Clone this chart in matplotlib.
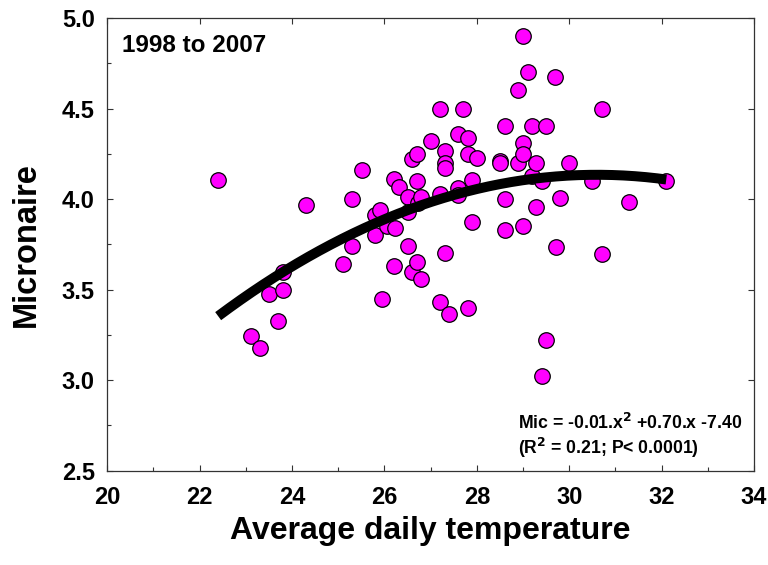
import matplotlib
matplotlib.use("Agg")
import matplotlib.pyplot as plt
import numpy as np
from matplotlib.ticker import MultipleLocator

plt.rcParams['font.family'] = ['Liberation Sans', 'DejaVu Sans']
plt.rcParams['font.weight'] = 'bold'

# Average daily temperature (x) and micronaire (y)
temperature = [22.40, 23.11, 23.31, 23.51, 23.70, 23.81, 23.81, 24.30, 25.11, 25.29,
               25.29, 25.51, 25.79, 25.79, 25.90, 25.95, 26.05, 26.23, 26.21, 26.32,
               26.21, 26.50, 26.52, 26.52, 26.59, 26.60, 26.70, 26.70, 26.70, 26.73,
               26.80, 26.80, 27.00, 27.20, 27.20, 27.20, 27.31, 27.31, 27.31, 27.31,
               27.40, 27.60, 27.60, 27.60, 27.69, 27.80, 27.80, 27.80, 27.90, 27.90,
               28.01, 28.50, 28.50, 28.61, 28.61, 28.61, 28.90, 28.90, 28.99, 29.00,
               29.00, 29.00, 29.10, 29.19, 29.20, 29.29, 29.29, 29.40, 29.40, 29.50,
               29.50, 29.69, 29.71, 29.80, 30.00, 30.50, 30.70, 30.70, 31.29, 32.09]
micronaire = [4.105, 3.243, 3.18, 3.475, 3.326, 3.50, 3.60, 3.967, 3.64, 3.74,
              4.00, 4.16, 3.80, 3.91, 3.94, 3.45, 3.85, 3.84, 4.11, 4.065,
              3.63, 4.01, 3.93, 3.74, 3.60, 4.22, 4.25, 4.10, 3.65, 3.98,
              4.01, 3.56, 4.32, 4.50, 4.03, 3.43, 4.265, 4.20, 4.17, 3.70,
              3.365, 4.36, 4.06, 4.02, 4.50, 4.335, 4.25, 3.40, 4.105, 3.875,
              4.225, 4.21, 4.20, 4.405, 4.00, 3.83, 4.60, 4.20, 4.90, 4.31,
              4.25, 3.85, 4.70, 4.405, 4.13, 4.20, 3.955, 4.10, 3.024, 4.405,
              3.22, 4.676, 3.733, 4.005, 4.20, 4.10, 4.50, 3.696, 3.985, 4.10]

# Quadratic trend (as drawn)
fit_coef = [-0.0116, 0.710, -6.73]
fit_range = [22.4, 32.1]

fig = plt.figure(figsize=(7.68, 5.65), dpi=100)
ax = fig.add_axes([0.1397, 0.1669, 0.9818 - 0.1397, 0.9681 - 0.1669])

ax.scatter(temperature, micronaire, s=125, facecolor='#ff00ff', edgecolor='black',
           linewidth=0.9, zorder=3)

xf = np.linspace(fit_range[0], fit_range[1], 200)
ax.plot(xf, np.polyval(fit_coef, xf), color='black', linewidth=7.2, zorder=4,
        solid_capstyle='butt')

ax.set_xlim(20, 34)
ax.set_ylim(2.5, 5.0)
ax.xaxis.set_major_locator(MultipleLocator(2))
ax.xaxis.set_minor_locator(MultipleLocator(1))
ax.yaxis.set_major_locator(MultipleLocator(0.5))
ax.yaxis.set_minor_locator(MultipleLocator(0.25))
ax.yaxis.set_major_formatter(matplotlib.ticker.FormatStrFormatter('%.1f'))

ax.tick_params(which='both', direction='in', top=True, right=True, width=0.8,
               labelsize=17, color='#333333')
ax.tick_params(which='major', length=4.5, pad=9)
ax.tick_params(axis='x', which='major', pad=11)
ax.tick_params(which='minor', length=2.8, top=False, right=False)
for lbl in ax.get_xticklabels() + ax.get_yticklabels():
    lbl.set_fontweight('bold')
for sp in ax.spines.values():
    sp.set_linewidth(0.9)
    sp.set_color('#333333')

ax.set_xlabel('Average daily temperature', fontsize=23, fontweight='bold', labelpad=5)
ax.set_ylabel('Micronaire', fontsize=23.5, fontweight='bold', labelpad=14)

ax.text(0.022, 0.965, '1998 to 2007', transform=ax.transAxes, fontsize=17.5,
        fontweight='bold', va='top', ha='left')
ax.text(0.635, 0.024, 'Mic = -0.01.x$^{\\mathbf{2}}$ +0.70.x -7.40\n(R$^{\\mathbf{2}}$ = 0.21; P< 0.0001)',
        transform=ax.transAxes, fontsize=12.7, fontweight='bold', va='bottom', ha='left',
        linespacing=1.15)

fig.savefig('out.png', dpi=100)
